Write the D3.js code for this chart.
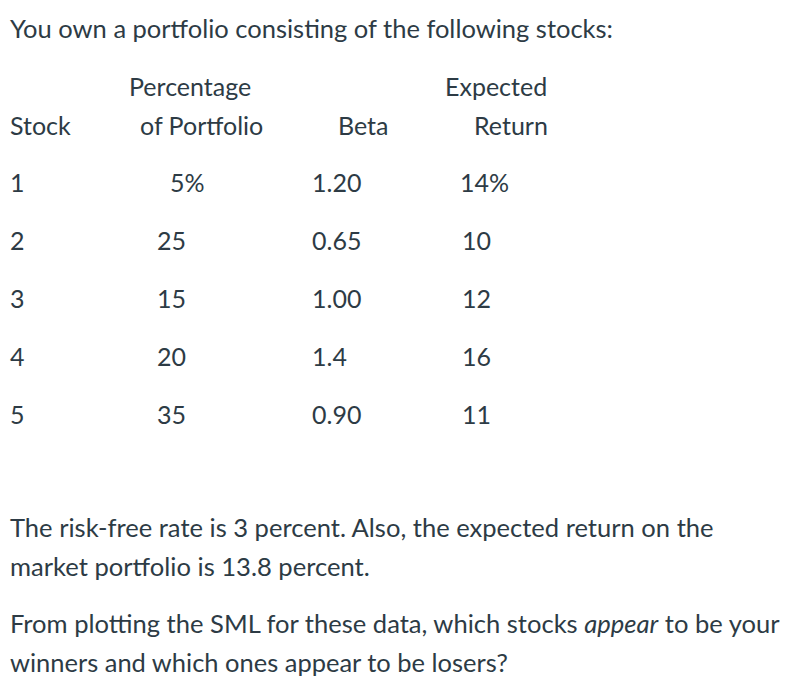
<!DOCTYPE html>
<html><head><meta charset="utf-8">
<script src="https://cdn.jsdelivr.net/npm/d3@7"></script>
<style>body{margin:0;background:#fff}svg text{font-family:Lato,"Noto Sans",sans-serif;fill:#2d3b45}</style>
</head><body><svg id="c" width="800" height="692"></svg>
<script>
const title = "You own a portfolio consisting of the following stocks:";
const stocks = ["1","2","3","4","5"];
const percentages = ["5%","25","15","20","35"];
const betas = ["1.20","0.65","1.00","1.4","0.90"];
const returns = ["14%","10","12","16","11"];
const headersTop = ["Percentage","Expected"];
const headersBottom = ["Stock","of Portfolio","Beta","Return"];
const paragraphs = [
  ["The risk-free rate is 3 percent. Also, the expected return on the", "market portfolio is 13.8 percent."],
  ["From plotting the SML for these data, which stocks |appear| to be your", "winners and which ones appear to be losers?"]
];

const svg = d3.select("#c");
const fs = 25;

function fitText(sel, w){
  // stretch to measured width of reference
  const nat = sel.node().getComputedTextLength();
  const k = w / nat;
  sel.attr("font-size", fs * Math.min(k, 1.08));
  const nat2 = sel.node().getComputedTextLength();
  if (Math.abs(nat2 - w) > 1) sel.attr("textLength", w).attr("lengthAdjust","spacing");
}

fitText(svg.append("text").attr("x",10).attr("y",38).attr("font-size",fs).text(title), 603);

// headers
const topX = [129, 445];
const botX = [10, 140, 338, 474];
svg.selectAll("text.ht").data(headersTop).join("text").attr("class","ht")
  .attr("x",(d,i)=>topX[i]).attr("y",96).attr("font-size",fs).text(d=>d);
svg.selectAll("text.hb").data(headersBottom).join("text").attr("class","hb")
  .attr("x",(d,i)=>botX[i]).attr("y",135).attr("font-size",fs).text(d=>d);

const y = d3.scalePoint().domain(stocks).range([192,424]);
const cols = [
  {vals:stocks, x:()=>10},
  {vals:percentages, x:(d,i)=> i===0 ? 170 : 157},
  {vals:betas, x:()=>312},
  {vals:returns, x:(d,i)=> i===0 ? 460 : 462}
];
cols.forEach(c=>{
  svg.selectAll(null).data(c.vals).join("text")
    .attr("x",c.x)
    .attr("y",(d,i)=>y(stocks[i])).attr("font-size",fs).text(d=>d);
});

const lineYs = [[537,576],[633,672]];
const lineW = [[704,360],[770,498]];
paragraphs.forEach((p,pi)=>{
  p.forEach((ln,li)=>{
    const t = svg.append("text").attr("x",10).attr("y",lineYs[pi][li]).attr("font-size",fs);
    ln.split("|").forEach((seg,si)=>{
      t.append("tspan").attr("font-style", si%2? "italic":"normal").text(seg);
    });
    fitText(t, lineW[pi][li]);
  });
});
</script></body></html>
